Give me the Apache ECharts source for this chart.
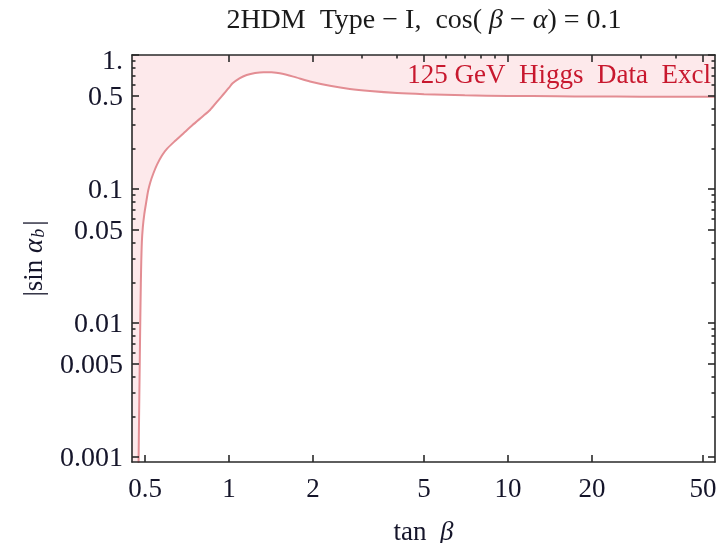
<!DOCTYPE html>
<html><head><meta charset="utf-8">
<script src="https://cdn.jsdelivr.net/npm/echarts@6/dist/echarts.min.js"></script>
<style>html,body{margin:0;padding:0;background:#fff}#c{width:719px;height:543px}</style>
</head><body><div id="c"></div>
<script>
// Boundary of the 125 GeV Higgs data exclusion (excluded above / left of curve)
const tanBeta = [0.474,0.476,0.478,0.480,0.482,0.484,0.487,0.491,0.497,0.505,0.513,0.522,0.535,0.552,0.575,0.600,0.640,0.686,0.740,0.800,0.855,0.913,0.960,1.000,1.030,1.090,1.157,1.240,1.330,1.420,1.520,1.700,1.950,2.300,2.710,3.200,4.000,5.000,7.000,10.00,15.00,20.00,30.00,55.20];
const sinAlphaB = [0.0009,0.002,0.004,0.008,0.015,0.025,0.040,0.052,0.065,0.080,0.097,0.112,0.130,0.152,0.178,0.200,0.228,0.260,0.300,0.345,0.389,0.457,0.516,0.570,0.615,0.670,0.710,0.735,0.745,0.742,0.730,0.690,0.635,0.590,0.558,0.538,0.520,0.510,0.500,0.495,0.492,0.490,0.489,0.488];

const xRange = [0.449, 55.2];
const yRange = [0.000918, 1];
const xTickValues = [0.5, 1, 2, 5, 10, 20, 50];
const xTickLabels = ['0.5', '1', '2', '5', '10', '20', '50'];
const xTopMajor = [1, 2, 5, 10, 20, 50];
const xTopMinor = [3, 4, 6, 7, 8, 9, 30, 40];
const yTickValues = [1, 0.5, 0.1, 0.05, 0.01, 0.005, 0.001];
const yTickLabels = ['1.', '0.5', '0.1', '0.05', '0.01', '0.005', '0.001'];
const yMinor = [0.9,0.8,0.7,0.6,0.4,0.3,0.2,0.09,0.08,0.07,0.06,0.04,0.03,0.02,0.009,0.008,0.007,0.006,0.004,0.003,0.002];

const titleText = '2HDM  Type \u2212 I,  cos( {i|\u03b2} \u2212 {i|\u03b1}) = 0.1';
const regionLabel = '125 GeV  Higgs  Data  Excl';

const L = Math.log10;
const FONT = '"Liberation Serif", "DejaVu Serif", serif';
const AX = '#2a2a2a';
const TXT = '#15152a';

function labelFor(vals, labels) {
  return function (v) {
    for (let i = 0; i < vals.length; i++) if (Math.abs(L(vals[i]) - v) < 1e-6) return labels[i] === '1.' ? '{one|1.}' : '{n|' + labels[i] + '}';
    return '';
  };
}

const curve = tanBeta.map((t, i) => [L(t), L(sinAlphaB[i])]);
const fillData = [[L(xRange[0]), L(yRange[0])], [L(tanBeta[0]), L(yRange[0])]].concat(curve);

const off = { show: false, onZero: false };
const xBase = { type: 'value', z: 5, min: L(xRange[0]), max: L(xRange[1]), splitLine: { show: false }, axisLabel: { show: false }, axisLine: off, axisTick: { show: false } };
const yBase = { type: 'value', z: 5, min: L(yRange[0]), max: L(yRange[1]), splitLine: { show: false }, axisLabel: { show: false }, axisLine: off, axisTick: { show: false } };
const lineSt = { color: AX, width: 1.6 };
function ticks(vals, len) { return { show: true, inside: true, length: len, customValues: vals.map(L), lineStyle: lineSt }; }
const frameLine = { show: true, onZero: false, lineStyle: lineSt };

const option = {
  animation: false,
  grid: { left: 132, right: 4, top: 55, bottom: 81, containLabel: false, outerBoundsMode: 'none' },
  xAxis: [
    Object.assign({}, xBase, {
      position: 'bottom',
      axisLine: frameLine,
      axisTick: ticks(xTickValues, 7),
      axisLabel: { show: true, customValues: xTickValues.map(L), formatter: labelFor(xTickValues, xTickLabels), fontFamily: FONT, fontSize: 27, color: TXT, margin: 14,
        rich: { n: { fontFamily: FONT, fontSize: 27, color: TXT } } },
      name: 'tan  {i|\u03b2}', nameLocation: 'middle', nameGap: 57,
      nameTextStyle: { fontFamily: FONT, fontSize: 27, color: TXT, rich: { i: { fontFamily: FONT, fontSize: 27, fontStyle: 'italic', color: TXT } } }
    }),
    Object.assign({}, xBase, { position: 'top', axisLine: frameLine, axisTick: ticks(xTopMajor, 7) }),
    Object.assign({}, xBase, { position: 'top', axisTick: ticks(xTopMinor, 3.5) })
  ],
  yAxis: [
    Object.assign({}, yBase, {
      position: 'left',
      axisLine: frameLine,
      axisTick: ticks(yTickValues, 7),
      axisLabel: { show: true, customValues: yTickValues.map(L), formatter: labelFor(yTickValues, yTickLabels), fontFamily: FONT, fontSize: 28, color: TXT, margin: 9,
        rich: { n: { fontFamily: FONT, fontSize: 28, color: TXT, padding: [4, 0, 0, 0] },
                one: { fontFamily: FONT, fontSize: 28, color: TXT, padding: [14, 0, 0, 0] } } },
      name: '|sin {i|\u03b1}{s|b}|', nameLocation: 'middle', nameGap: 84, nameRotate: 90,
      nameTextStyle: { fontFamily: FONT, fontSize: 27, color: TXT,
        rich: { i: { fontFamily: FONT, fontSize: 27, fontStyle: 'italic', color: TXT },
                s: { fontFamily: FONT, fontSize: 18, fontStyle: 'italic', color: TXT, verticalAlign: 'bottom', padding: [6, 3, 0, 1] } } }
    }),
    Object.assign({}, yBase, { position: 'left', axisTick: ticks(yMinor, 3.5) }),
    Object.assign({}, yBase, { position: 'right', axisLine: frameLine, axisTick: ticks(yTickValues, 7) }),
    Object.assign({}, yBase, { position: 'right', axisTick: ticks(yMinor, 3.5) })
  ],
  graphic: [
    { type: 'text', x: 424, y: 21, z: 100,
      style: { text: titleText, align: 'center', verticalAlign: 'middle', textAlign: 'center', textVerticalAlign: 'middle', fontFamily: FONT, fontSize: 28, fill: '#1a1a1a',
        rich: { i: { fontFamily: FONT, fontSize: 28, fontStyle: 'italic', fill: '#1a1a1a' } } } },
    { type: 'text', x: 711, y: 76, z: 100,
      style: { text: regionLabel, align: 'right', verticalAlign: 'middle', textAlign: 'right', textVerticalAlign: 'middle', fontFamily: FONT, fontSize: 27, fill: '#c8182e' } }
  ],
  series: [
    { type: 'line', name: 'excluded', data: fillData, showSymbol: false, symbol: 'none', silent: true,
      lineStyle: { width: 0, opacity: 0 }, areaStyle: { color: '#fde9eb', opacity: 1, origin: 'end' }, z: 1 },
    { type: 'line', name: 'boundary', data: curve, showSymbol: false, symbol: 'none', smooth: 0.25, silent: true,
      lineStyle: { width: 2, color: '#e38d93' }, z: 2 }
  ]
};

const chart = echarts.init(document.getElementById('c'), null, { renderer: 'canvas' });
chart.setOption(option);
</script>
</body></html>
